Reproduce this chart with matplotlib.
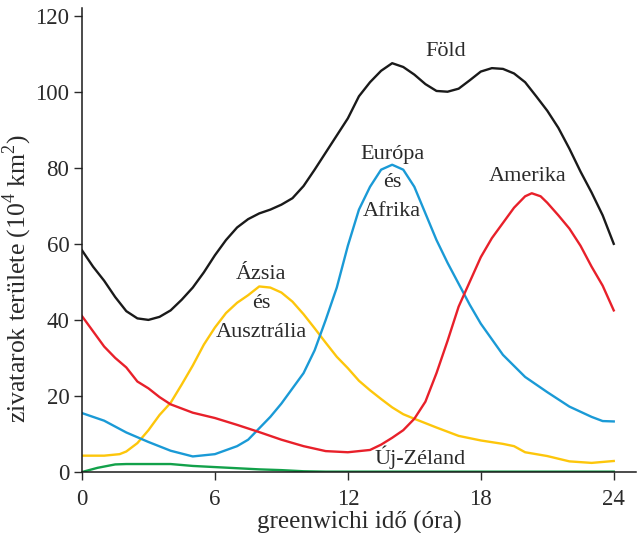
import matplotlib
matplotlib.use("Agg")
import matplotlib.pyplot as plt

# Thunderstorm area by region over a day (10^4 km^2), greenwich time in hours
hours_fold = [0, 0.5, 1, 1.5, 2, 2.5, 3, 3.5, 4, 4.5, 5, 5.5, 6, 6.5, 7, 7.5, 8, 8.5,
              9, 9.5, 10, 10.5, 11, 11.5, 12, 12.5, 13, 13.5, 14, 14.5, 15, 15.5, 16,
              16.5, 17, 17.5, 18, 18.5, 19, 19.5, 20, 20.5, 21, 21.5, 22, 22.5, 23,
              23.5, 24]
fold = [58.3, 54, 50.3, 46, 42.3, 40.4, 40, 40.8, 42.5, 45.3, 48.5, 52.5, 57, 61,
        64.3, 66.5, 68, 69, 70.3, 72, 75.2, 79.5, 84, 88.5, 93, 98.8, 102.5, 105.5,
        107.5, 106.5, 104.5, 102, 100.2, 100, 100.8, 103, 105.3, 106.2, 106, 104.8,
        102.5, 98.8, 95, 90.5, 85, 79, 73.5, 67.5, 60]

hours_amerika = [0, 0.5, 1, 1.5, 2, 2.5, 3, 3.5, 4, 5, 6, 7, 8, 9, 10, 11, 12, 13,
                 13.5, 14, 14.5, 15, 15.5, 16, 16.5, 17, 17.5, 18, 18.5, 19, 19.5,
                 20, 20.3, 20.7, 21, 21.5, 22, 22.5, 23, 23.5, 24]
amerika = [41, 37, 33, 30, 27.5, 23.8, 22, 19.7, 17.8, 15.6, 14.2, 12.4, 10.5, 8.5,
           6.8, 5.5, 5.2, 5.8, 7.2, 9, 11, 14, 18.5, 26, 34.5, 43.5, 50, 56.5, 61.5,
           65.5, 69.5, 72.5, 73.3, 72.5, 70.8, 67.5, 64, 59.5, 54, 49, 42.5]

hours_europa = [0, 1, 2, 3, 4, 5, 6, 7, 7.5, 8, 8.5, 9, 9.5, 10, 10.5, 11, 11.5, 12,
                12.5, 13, 13.5, 14, 14.5, 15, 15.5, 16, 16.5, 17, 17.5, 18, 19, 20,
                21, 22, 23, 23.5, 24]
europa = [15.5, 13.5, 10.4, 7.9, 5.6, 4.1, 4.7, 6.8, 8.5, 11.5, 14.5, 18, 22, 26,
          32, 40, 48.5, 59.5, 69, 75, 79.5, 80.8, 79.5, 75, 68, 61, 55, 49.5, 44,
          39, 30.8, 25, 21, 17.2, 14.5, 13.4, 13.3]

hours_azsia = [0, 1, 1.7, 2, 2.5, 3, 3.5, 4, 4.5, 5, 5.5, 6, 6.5, 7, 7.5, 8, 8.5, 9,
               9.5, 10, 10.5, 11, 11.5, 12, 12.5, 13, 13.5, 14, 14.5, 15, 16, 17, 18,
               19, 19.5, 20, 21, 22, 23, 24]
azsia = [4.3, 4.3, 4.7, 5.4, 7.6, 11, 15, 18.2, 23, 28, 33.5, 38, 41.8, 44.5, 46.5,
         48.8, 48.5, 47.2, 44.8, 41.5, 37.8, 34, 30.3, 27.3, 24, 21.5, 19.2, 17,
         15.2, 14, 11.7, 9.5, 8.3, 7.4, 6.8, 5.2, 4.2, 2.8, 2.4, 2.9]

hours_zeland = [0, 0.7, 1.5, 2, 3, 4, 5, 6, 7, 8, 9, 10, 11, 12, 18, 24]
zeland = [0, 1.1, 2.0, 2.1, 2.1, 2.1, 1.6, 1.3, 1.0, 0.7, 0.5, 0.2, 0.1, 0.1, 0.1, 0.1]

x_ticks = [0, 6, 12, 18, 24]
y_ticks = [0, 20, 40, 60, 80, 100, 120]

plt.rcParams["font.family"] = ["Liberation Serif", "DejaVu Serif"]
plt.rcParams["mathtext.fontset"] = "custom"
plt.rcParams["mathtext.rm"] = "Liberation Serif"

fig = plt.figure(figsize=(6.42, 5.33), dpi=100)
ax = fig.add_axes([0.1277, 0.1144, 0.8628, 0.8705])

lw = 1.7
ax.plot(hours_zeland, zeland, color="#12a14a", lw=lw)
ax.plot(hours_azsia, azsia, color="#fdc60b", lw=lw)
ax.plot(hours_europa, europa, color="#1a9ad6", lw=lw)
ax.plot(hours_amerika, amerika, color="#e8202a", lw=lw)
ax.plot(hours_fold, fold, color="#1a1a1a", lw=lw)

txt = dict(fontsize=16, color="#2a2a2a", ha="center", va="center",
           linespacing=1.7)
ax.text(16.4, 110.5, "Föld", **txt)
ax.text(14.0, 76.0, "Európa\nés\nAfrika", **txt)
ax.text(20.1, 77.6, "Amerika", **txt)
ax.text(8.1, 44.3, "Ázsia\nés\nAusztrália", **txt)
ax.text(15.25, 4.0, "Új-Zéland", **txt)

ax.set_xlim(0, 25)
ax.set_ylim(0, 122)
ax.set_xticks(x_ticks)
ax.set_yticks(y_ticks)
ax.tick_params(axis="both", direction="out", length=6, width=1,
               labelsize=16.5, colors="#2a2a2a")
ax.tick_params(axis="x", pad=6)
ax.tick_params(axis="y", pad=3)
for side in ("top", "right"):
    ax.spines[side].set_visible(False)
for side in ("left", "bottom"):
    ax.spines[side].set_linewidth(1.1)
    ax.spines[side].set_color("#1a1a1a")

ax.set_xlabel("greenwichi idő (óra)", fontsize=18, color="#2a2a2a", labelpad=1)
ax.set_ylabel("zivatarok területe (10$^4$ km$^2$)", fontsize=18.5,
              color="#2a2a2a")
ax.yaxis.set_label_coords(-0.087, 0.416)

fig.savefig("out.png", dpi=100)
